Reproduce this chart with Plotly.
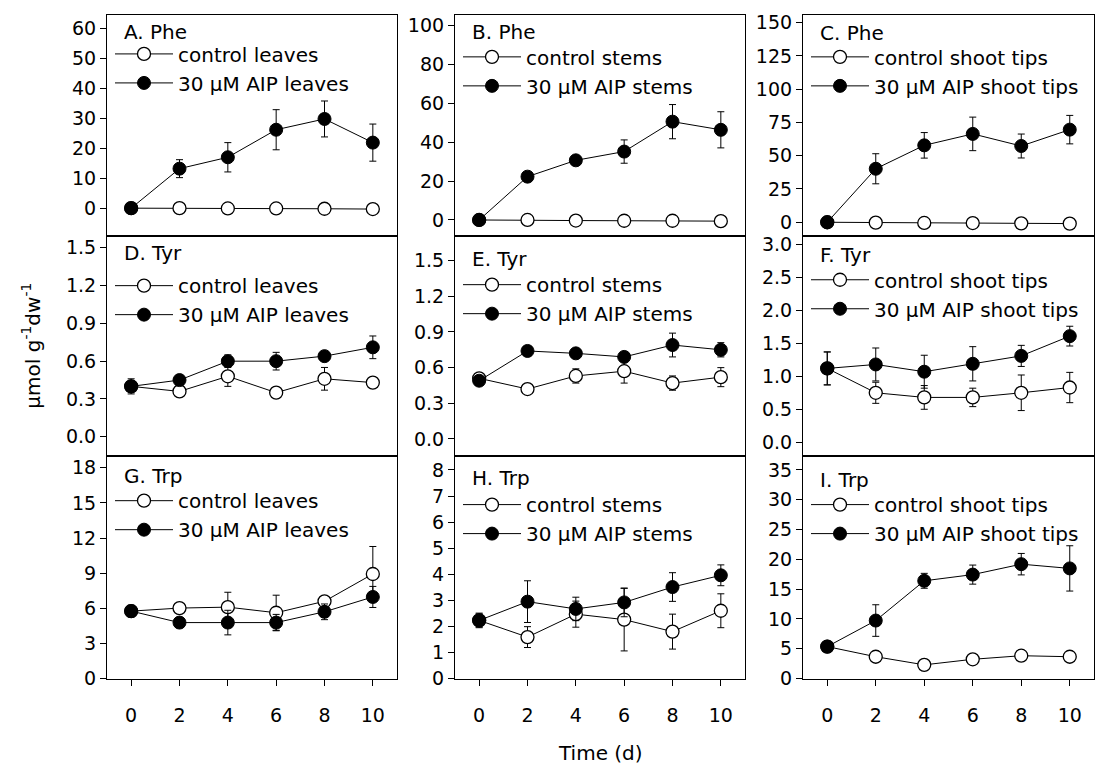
import plotly.graph_objects as go
from plotly.subplots import make_subplots

days = [0, 2, 4, 6, 8, 10]

panel_titles = ["A. Phe", "B. Phe", "C. Phe",
                "D. Tyr", "E. Tyr", "F. Tyr",
                "G. Trp", "H. Trp", "I. Trp"]
tissues = ["leaves", "stems", "shoot tips"]

# Phe
phe_leaves_ctrl = [0, 0, -0.1, -0.1, -0.2, -0.3]
phe_leaves_ctrl_err = [0.2, 0.2, 0.2, 0.2, 0.2, 0.2]
phe_leaves_aip = [0, 13.2, 17.0, 26.2, 29.8, 21.9]
phe_leaves_aip_err = [0.3, 3.0, 4.9, 6.7, 6.0, 6.2]

phe_stems_ctrl = [0, 0, -0.3, -0.4, -0.4, -0.6]
phe_stems_ctrl_err = [0.2, 0.2, 0.2, 0.2, 0.2, 0.2]
phe_stems_aip = [0, 22.3, 30.7, 35.2, 50.6, 46.4]
phe_stems_aip_err = [0.5, 1.5, 2.5, 6.0, 8.8, 9.3]

phe_tips_ctrl = [0, -0.3, -0.5, -0.6, -0.8, -1.0]
phe_tips_ctrl_err = [0.3, 0.3, 0.3, 0.3, 0.3, 0.3]
phe_tips_aip = [0, 40.2, 57.8, 66.4, 57.3, 69.6]
phe_tips_aip_err = [0.5, 11.3, 9.6, 12.6, 9.0, 10.7]

# Tyr
tyr_leaves_ctrl = [0.40, 0.36, 0.48, 0.35, 0.46, 0.43]
tyr_leaves_ctrl_err = [0.04, 0.02, 0.08, 0.02, 0.09, 0.02]
tyr_leaves_aip = [0.40, 0.45, 0.60, 0.60, 0.64, 0.71]
tyr_leaves_aip_err = [0.06, 0.02, 0.05, 0.07, 0.03, 0.09]

tyr_stems_ctrl = [0.51, 0.42, 0.53, 0.57, 0.47, 0.52]
tyr_stems_ctrl_err = [0.02, 0.02, 0.06, 0.10, 0.06, 0.08]
tyr_stems_aip = [0.49, 0.74, 0.72, 0.69, 0.79, 0.75]
tyr_stems_aip_err = [0.02, 0.02, 0.02, 0.03, 0.10, 0.06]

tyr_tips_ctrl = [1.12, 0.75, 0.68, 0.68, 0.75, 0.83]
tyr_tips_ctrl_err = [0.25, 0.16, 0.18, 0.14, 0.27, 0.23]
tyr_tips_aip = [1.12, 1.18, 1.07, 1.19, 1.31, 1.61]
tyr_tips_aip_err = [0.25, 0.25, 0.25, 0.26, 0.16, 0.15]

# Trp
trp_leaves_ctrl = [5.76, 6.02, 6.10, 5.62, 6.60, 8.93]
trp_leaves_ctrl_err = [0.3, 0.3, 1.27, 1.5, 0.3, 2.35]
trp_leaves_aip = [5.76, 4.78, 4.78, 4.78, 5.70, 6.97]
trp_leaves_aip_err = [0.5, 0.4, 1.05, 0.7, 0.67, 0.9]

trp_stems_ctrl = [2.23, 1.59, 2.47, 2.26, 1.80, 2.60]
trp_stems_ctrl_err = [0.25, 0.4, 0.5, 1.2, 0.67, 0.65]
trp_stems_aip = [2.23, 2.95, 2.67, 2.92, 3.51, 3.96]
trp_stems_aip_err = [0.28, 0.8, 0.45, 0.55, 0.55, 0.4]

trp_tips_ctrl = [5.36, 3.66, 2.30, 3.23, 3.83, 3.66]
trp_tips_ctrl_err = [0.3, 0.4, 0.3, 0.4, 0.6, 0.4]
trp_tips_aip = [5.36, 9.73, 16.4, 17.44, 19.19, 18.48]
trp_tips_aip_err = [0.5, 2.65, 1.25, 1.6, 1.8, 3.8]

ctrl_series = [phe_leaves_ctrl, phe_stems_ctrl, phe_tips_ctrl,
               tyr_leaves_ctrl, tyr_stems_ctrl, tyr_tips_ctrl,
               trp_leaves_ctrl, trp_stems_ctrl, trp_tips_ctrl]
ctrl_errs = [phe_leaves_ctrl_err, phe_stems_ctrl_err, phe_tips_ctrl_err,
             tyr_leaves_ctrl_err, tyr_stems_ctrl_err, tyr_tips_ctrl_err,
             trp_leaves_ctrl_err, trp_stems_ctrl_err, trp_tips_ctrl_err]
aip_series = [phe_leaves_aip, phe_stems_aip, phe_tips_aip,
              tyr_leaves_aip, tyr_stems_aip, tyr_tips_aip,
              trp_leaves_aip, trp_stems_aip, trp_tips_aip]
aip_errs = [phe_leaves_aip_err, phe_stems_aip_err, phe_tips_aip_err,
            tyr_leaves_aip_err, tyr_stems_aip_err, tyr_tips_aip_err,
            trp_leaves_aip_err, trp_stems_aip_err, trp_tips_aip_err]

y_ranges = [[-9.2, 64.6], [-8.1, 105.6], [-10.1, 155.9],
            [-0.15, 1.596], [-0.14, 1.709], [-0.204, 3.134],
            [0, 19.04], [0, 8.55], [0, 37.4]]
y_ticks = [list(range(0, 61, 10)), list(range(0, 101, 20)), list(range(0, 151, 25)),
           [0, 0.3, 0.6, 0.9, 1.2, 1.5], [0, 0.3, 0.6, 0.9, 1.2, 1.5], [0, 0.5, 1.0, 1.5, 2.0, 2.5, 3.0],
           list(range(0, 19, 3)), list(range(0, 9, 1)), list(range(0, 36, 5))]
y_fmt = ["", "", "", ".1f", ".1f", ".1f", "", "", ""]
x_ticks = [0, 2, 4, 6, 8, 10]

W, H = 1095, 773
col_px = [(107, 397), (455, 745), (803, 1094)]
row_px = [(12, 237), (237, 461), (461, 688)]
# per-panel offsets (px from panel top) of the label centre and first legend item centre
label_dy = [18, 18, 19, 18, 24, 20, 21, 23, 25]
legend_dy = [43, 46, 46, 54, 53, 48, 49, 53, 53]

FONT = "DejaVu Sans, Verdana, sans-serif"
TICK_SIZE = 19
TEXT_SIZE = 20

fig = make_subplots(rows=3, cols=3)

for i in range(9):
    r, c = divmod(i, 3)
    tissue = tissues[c]
    lg = "legend" if i == 0 else f"legend{i+1}"
    fig.add_trace(go.Scatter(
        x=days, y=ctrl_series[i], mode="lines+markers",
        name=f"control {tissue}", legend=lg,
        line=dict(color="black", width=1),
        marker=dict(symbol="circle", size=13, color="white",
                    line=dict(color="black", width=1.3)),
        error_y=dict(type="data", array=ctrl_errs[i], color="black",
                     thickness=1, width=3.5),
    ), row=r + 1, col=c + 1)
    fig.add_trace(go.Scatter(
        x=days, y=aip_series[i], mode="lines+markers",
        name=f"30 µM AIP {tissue}", legend=lg,
        line=dict(color="black", width=1),
        marker=dict(symbol="circle", size=13, color="black",
                    line=dict(color="black", width=1)),
        error_y=dict(type="data", array=aip_errs[i], color="black",
                     thickness=1, width=3.5),
    ), row=r + 1, col=c + 1)

layout_upd = {}
annotations = []
for i in range(9):
    r, c = divmod(i, 3)
    x0, x1 = col_px[c]
    ytop, ybot = row_px[r]
    xd = [x0 / W, x1 / W]
    yd = [1 - ybot / H, 1 - ytop / H]
    sfx = "" if i == 0 else str(i + 1)
    layout_upd[f"xaxis{sfx}"] = dict(
        domain=xd, range=[-1, 11], tickvals=x_ticks,
        showticklabels=(r == 2), ticks="outside" if r == 2 else "",
        ticklen=6, tickwidth=1, tickcolor="black",
        showline=True, linecolor="black", linewidth=1.2, mirror=True,
        showgrid=False, zeroline=False,
        tickfont=dict(family=FONT, size=TICK_SIZE, color="black"),
        ticklabelstandoff=14,
    )
    layout_upd[f"yaxis{sfx}"] = dict(
        domain=yd, range=y_ranges[i], tickvals=y_ticks[i], tickformat=y_fmt[i],
        ticks="outside", ticklen=6, tickwidth=1, tickcolor="black",
        showline=True, linecolor="black", linewidth=1.2, mirror=True,
        showgrid=False, zeroline=False,
        tickfont=dict(family=FONT, size=TICK_SIZE, color="black"),
    )
    lg = "legend" if i == 0 else f"legend{i+1}"
    layout_upd[lg] = dict(
        x=(x0 + 3) / W, y=1 - (ytop + legend_dy[i] - 23) / H,
        xanchor="left", yanchor="top",
        bgcolor="rgba(0,0,0,0)", borderwidth=0,
        font=dict(family=FONT, size=TEXT_SIZE, color="black"),
        itemwidth=58,
    )
    annotations.append(dict(
        text=panel_titles[i], x=(x0 + 15) / W, y=1 - (ytop + label_dy[i]) / H,
        xref="paper", yref="paper", showarrow=False,
        xanchor="left", yanchor="middle",
        font=dict(family=FONT, size=TEXT_SIZE, color="black"),
    ))

fig.update_layout(**layout_upd)

annotations.append(dict(text="µmol g<sup>-1</sup>dw<sup>-1</sup>", x=31 / W, y=1 - 349 / H,
                        xref="paper", yref="paper", showarrow=False, textangle=-90,
                        font=dict(family=FONT, size=TEXT_SIZE, color="black"),
                        xanchor="center", yanchor="middle"))
annotations.append(dict(text="Time (d)", x=600 / W, y=1 - 764 / H,
                        xref="paper", yref="paper", showarrow=False,
                        font=dict(family=FONT, size=TEXT_SIZE, color="black"),
                        xanchor="center", yanchor="middle"))

fig.update_layout(
    width=W, height=H,
    margin=dict(l=0, r=0, t=0, b=0),
    paper_bgcolor="white", plot_bgcolor="white",
    font=dict(family=FONT, size=TEXT_SIZE, color="black"),
    showlegend=True,
    annotations=annotations,
)

fig.write_html("out.html")
